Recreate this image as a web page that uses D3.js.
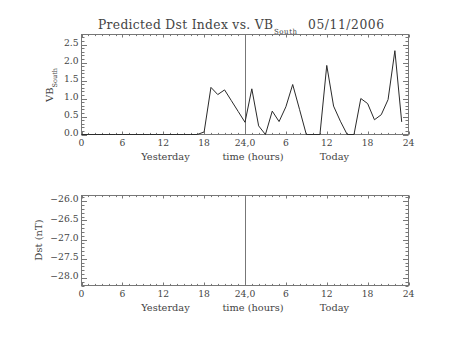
<!DOCTYPE html>
<html><head><meta charset="utf-8">
<script src="https://cdn.jsdelivr.net/npm/d3@7"></script>
<style>
body{margin:0;background:#fff}
svg{display:block}
text{font-family:"DejaVu Serif",serif;fill:#444}
</style>
</head><body>
<script>
// Hourly VB_south over yesterday (0-23) and today (24-47)
const hours = d3.range(48);
const vbSouth = [
  0,0,0,0,0,0,0,0,0,0,0,0,0,0,0,0,0,0,
  0.07,1.31,1.11,1.24,0.94,0.64,
  0.34,1.27,0.24,0,0.65,0.36,0.77,1.39,0.70,0,0,0,
  1.92,0.79,0.37,0,0,1.0,0.86,0.41,0.55,0.97,2.33,0.35
];
// Dst prediction series (no values available for this day)
const dst = [];

const xTickValues = [0,6,12,18,24,30,36,42,48];
const xTickLabels = ["0","6","12","18","24,0","6","12","18","24"];
const vbTicks = [0,0.5,1.0,1.5,2.0,2.5];
const dstTicks = [-26.0,-26.5,-27.0,-27.5,-28.0];
const dayLabels = ["Yesterday","time (hours)","Today"];

const W = 453, H = 340;
const svg = d3.select("body").append("svg").attr("width",W).attr("height",H);

const left = 81.5, right = 408.5;
const x = d3.scaleLinear().domain([0,48]).range([left,right]);

const frameColor = "#777";

function panel(top, bottom, y, majors, minors, fmt) {
  const g = svg.append("g");
  // frame
  g.append("rect").attr("x",left).attr("y",top)
    .attr("width",right-left).attr("height",bottom-top)
    .attr("fill","none").attr("stroke",frameColor).attr("stroke-width",1);

  // x ticks on bottom and top edges
  d3.range(0,49,1).forEach(h=>{
    const major = h % 6 === 0;
    const len = major ? 3 : 1.6;
    const px = Math.round(x(h)) + 0.5;
    g.append("line").attr("x1",px).attr("x2",px).attr("y1",bottom).attr("y2",bottom-len)
      .attr("stroke",frameColor);
    g.append("line").attr("x1",px).attr("x2",px).attr("y1",top).attr("y2",top+len)
      .attr("stroke",frameColor);
  });
  // y ticks on left and right edges
  minors.forEach(v=>{
    const isMajor = majors.some(m=>Math.abs(m-v)<1e-6);
    const len = isMajor ? 5.5 : 3;
    const py = Math.round(y(v)) + 0.5;
    g.append("line").attr("x1",left).attr("x2",left+len).attr("y1",py).attr("y2",py)
      .attr("stroke",frameColor);
    g.append("line").attr("x1",right).attr("x2",right-len).attr("y1",py).attr("y2",py)
      .attr("stroke",frameColor);
  });
  // y tick labels
  majors.forEach(v=>{
    g.append("text").attr("x",left-3).attr("y",y(v)+1.2)
      .attr("text-anchor","end").attr("font-size",9.2)
      .text(fmt(v).replace("-","\u2212"));
  });
  // x tick labels
  xTickValues.forEach((h,i)=>{
    g.append("text").attr("x",x(h)).attr("y",bottom+11)
      .attr("text-anchor","middle").attr("font-size",9.2)
      .text(xTickLabels[i]);
  });
  // day / time captions
  const capX = [165.5,253,334.5];
  dayLabels.forEach((t,i)=>{
    g.append("text").attr("x",capX[i]).attr("y",bottom+25.5)
      .attr("text-anchor","middle").attr("font-size",9.8).text(t);
  });
  // midnight divider
  g.append("line").attr("x1",Math.round(x(24))+0.5).attr("x2",Math.round(x(24))+0.5)
    .attr("y1",top).attr("y2",bottom).attr("stroke","#777");
  return g;
}

// ---- top panel: VB_south ----
const top1 = 34.5, bot1 = 134.5;
const y1 = d3.scaleLinear().domain([0,2.78]).range([bot1,top1]);
const vbMinor = d3.range(0,28).map(i=>+(i*0.1).toFixed(1));
const g1 = panel(top1, bot1, y1, vbTicks, vbMinor, d=>d.toFixed(1));

g1.append("path")
  .datum(hours.map((h,i)=>[h,vbSouth[i]]))
  .attr("fill","none").attr("stroke","#2a2a2a").attr("stroke-width",1)
  .attr("stroke-linejoin","round")
  .attr("d", d3.line().x(d=>x(d[0])).y(d=>y1(d[1])));

// y title for top panel
const t1 = g1.append("text").attr("transform","translate(53,85) rotate(-90)")
  .attr("text-anchor","middle").attr("font-size",10);
t1.append("tspan").text("VB");
t1.append("tspan").attr("dy",3.5).attr("font-size",6.5).text("South");

// ---- bottom panel: Dst ----
const top2 = 195.5, bot2 = 285.5;
const y2 = d3.scaleLinear().domain([-28.2,-25.85]).range([bot2,top2]);
const dstMinor = d3.range(0,24).map(i=>+(-28.2+i*0.1).toFixed(1));
const g2 = panel(top2, bot2, y2, dstTicks, dstMinor, d=>d.toFixed(1));

if (dst.length) {
  g2.append("path").datum(dst).attr("fill","none").attr("stroke","#2a2a2a")
    .attr("d", d3.line().x((d,i)=>x(i)).y(d=>y2(d)));
}

g2.append("text").attr("transform","translate(41.5,240) rotate(-90)")
  .attr("text-anchor","middle").attr("font-size",10).text("Dst (nT)");

// ---- title ----
const title = svg.append("text").attr("y",29).attr("font-size",12.3);
title.append("tspan").attr("x",98).attr("textLength",175).attr("lengthAdjust","spacing")
  .text("Predicted Dst Index vs. VB");
title.append("tspan").attr("x",274).attr("dy",4.5).attr("font-size",7)
  .attr("textLength",23).attr("lengthAdjust","spacing").text("South");
title.append("tspan").attr("x",308).attr("dy",-4.5)
  .attr("textLength",76).attr("lengthAdjust","spacing").text("05/11/2006");
</script>
</body></html>
